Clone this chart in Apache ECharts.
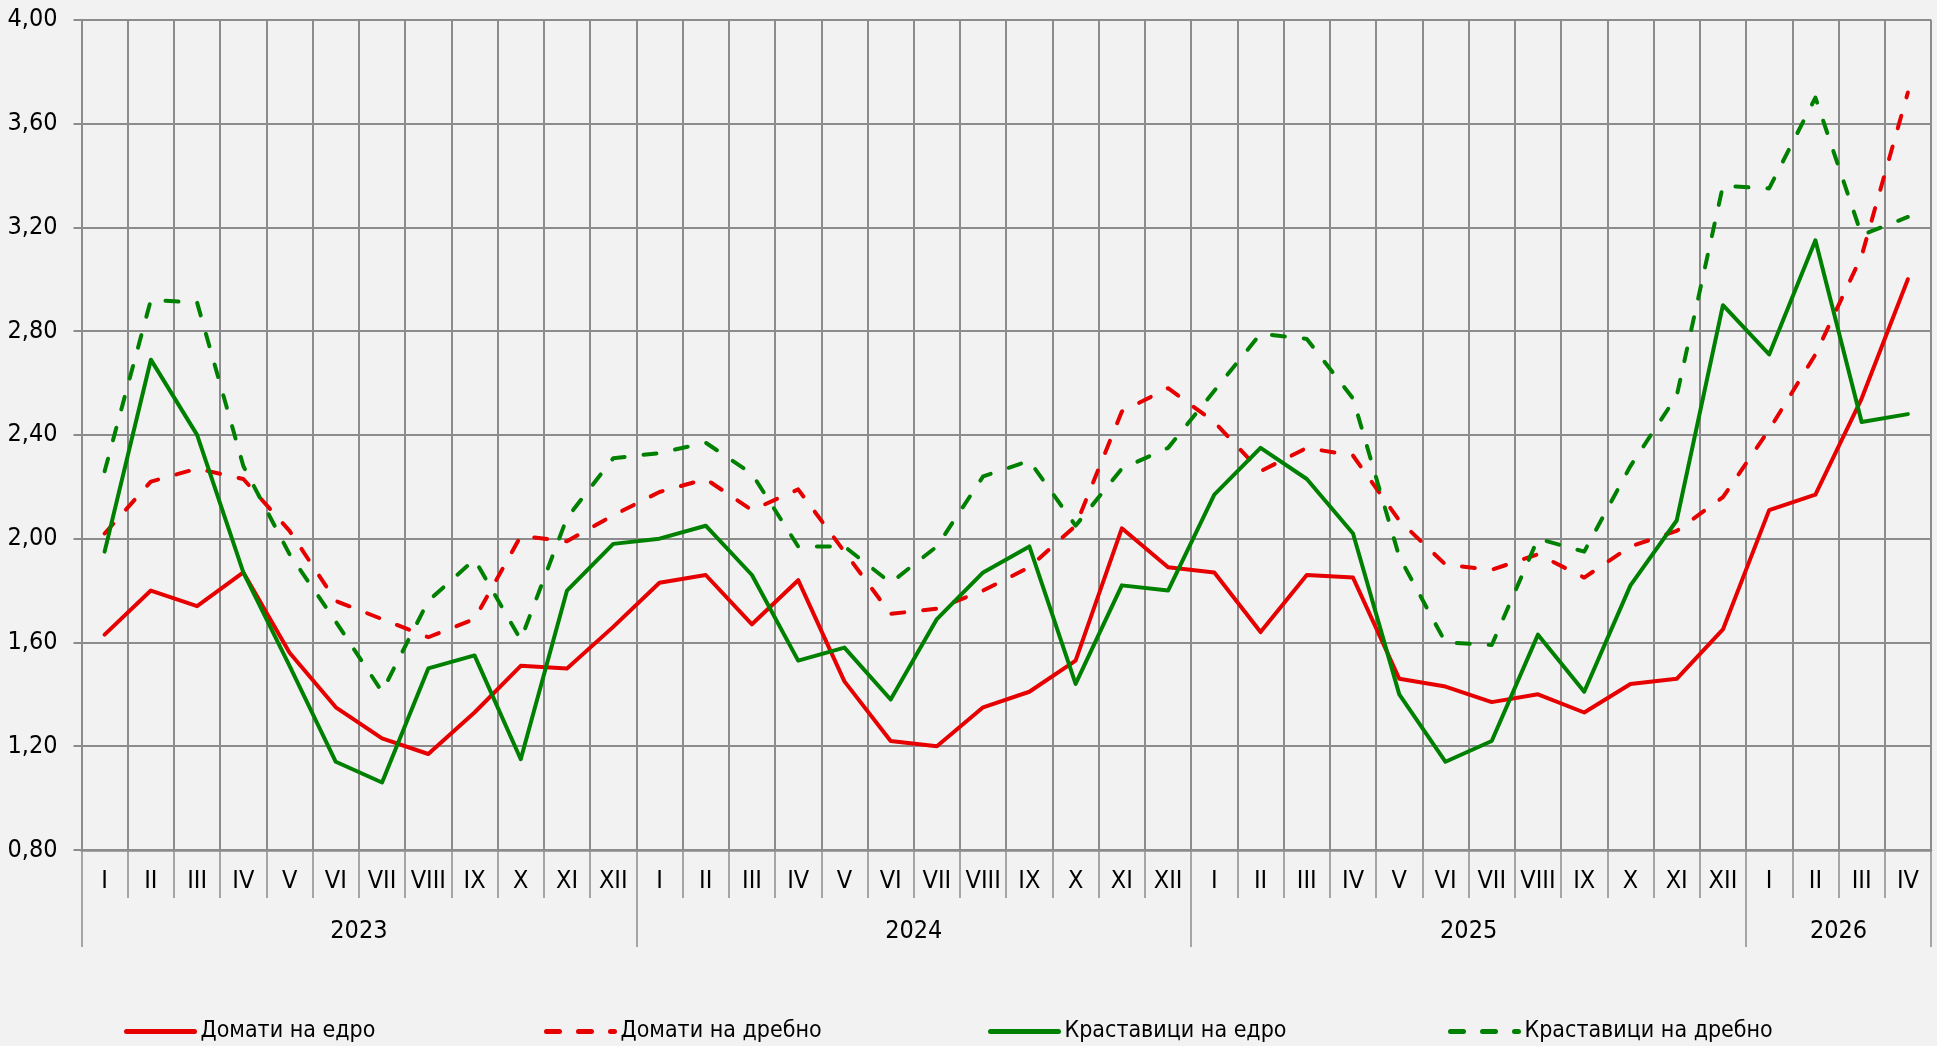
<!DOCTYPE html>
<html>
<head>
<meta charset="utf-8">
<script src="https://cdn.jsdelivr.net/npm/echarts@6/dist/echarts.min.js"></script>
<style>
  html, body { margin: 0; padding: 0; background: #f2f2f2; }
  #chart { width: 1937px; height: 1046px; }
</style>
</head>
<body>
<div id="chart"></div>
<script>
  const romanMonths = ['I', 'II', 'III', 'IV', 'V', 'VI', 'VII', 'VIII', 'IX', 'X', 'XI', 'XII']
  const yearLabels = ['2023', '2024', '2025', '2026']
  const yearMonths = [12, 12, 12, 4]

  const tomatoWholesale = [
    1.63, 1.80, 1.74, 1.87, 1.56, 1.35, 1.23, 1.17, 1.33, 1.51, 1.50, 1.66,
    1.83, 1.86, 1.67, 1.84, 1.45, 1.22, 1.20, 1.35, 1.41, 1.53, 2.04, 1.89,
    1.87, 1.64, 1.86, 1.85, 1.46, 1.43, 1.37, 1.40, 1.33, 1.44, 1.46, 1.65,
    2.11, 2.17, 2.54, 3.00
  ]
  const tomatoRetail = [
    2.02, 2.22, 2.27, 2.23, 2.03, 1.76, 1.69, 1.62, 1.69, 2.01, 1.99, 2.09,
    2.18, 2.23, 2.11, 2.19, 1.95, 1.71, 1.73, 1.80, 1.89, 2.05, 2.49, 2.58,
    2.45, 2.26, 2.35, 2.32, 2.07, 1.90, 1.88, 1.94, 1.85, 1.97, 2.03, 2.16,
    2.42, 2.71, 3.09, 3.72
  ]
  const cucumberWholesale = [
    1.95, 2.69, 2.40, 1.87, 1.51, 1.14, 1.06, 1.50, 1.55, 1.15, 1.80, 1.98,
    2.00, 2.05, 1.86, 1.53, 1.58, 1.38, 1.69, 1.87, 1.97, 1.44, 1.82, 1.80,
    2.17, 2.35, 2.23, 2.02, 1.40, 1.14, 1.22, 1.63, 1.41, 1.82, 2.07, 2.90,
    2.71, 3.15, 2.45, 2.48
  ]
  const cucumberRetail = [
    2.26, 2.92, 2.91, 2.28, 1.94, 1.68, 1.41, 1.76, 1.92, 1.61, 2.08, 2.31,
    2.33, 2.37, 2.25, 1.97, 1.97, 1.83, 1.97, 2.24, 2.30, 2.05, 2.27, 2.35,
    2.57, 2.79, 2.77, 2.54, 1.93, 1.60, 1.59, 2.00, 1.95, 2.28, 2.55, 3.36,
    3.35, 3.70, 3.17, 3.24
  ]

  const seriesNames = ['Домати на едро', 'Домати на дребно', 'Краставици на едро', 'Краставици на дребно']

  // month labels, year boundaries and year label positions
  const categories = []
  const yearBounds = [0]
  const yearCenters = []
  yearMonths.forEach((n, i) => {
    for (let m = 0; m < n; m++) categories.push(romanMonths[m])
    yearCenters.push(yearBounds[i] + n / 2)
    yearBounds.push(yearBounds[i] + n)
  })

  const font = "'DejaVu Sans Condensed', 'Liberation Sans Narrow', sans-serif"
  const red = '#e60000'
  const green = '#008000'
  const gridColor = '#8c8c8c'
  const dash = [13, 19]

  function makeSeries(name, data, color, dashed) {
    return {
      name: name,
      type: 'line',
      data: data,
      symbol: 'none',
      showSymbol: false,
      animation: false,
      lineStyle: {
        color: color,
        width: 4,
        type: dashed ? dash : 'solid',
        cap: 'round',
        join: 'round'
      },
      itemStyle: { color: color }
    }
  }

  function makeLegend(name, left) {
    return {
      data: [name],
      left: left,
      top: 1020,
      padding: 0,
      itemWidth: 68,
      itemHeight: 14,
      itemGap: 0,
      lineStyle: { width: 5 },
      // hide the circle that line series draw in legend icons
      itemStyle: { color: 'rgba(0,0,0,0)', borderWidth: 0, opacity: 0 },
      textStyle: { fontFamily: font, fontSize: 23, color: '#000', padding: [0, 0, 0, 1] }
    }
  }

  const chart = echarts.init(document.getElementById('chart'))
  chart.setOption({
    backgroundColor: '#f2f2f2',
    animation: false,
    grid: {
      left: 81.5,
      right: 6,
      top: 19.8,
      bottom: 196
    },
    legend: [
      makeLegend(seriesNames[0], 124),
      makeLegend(seriesNames[1], 544),
      makeLegend(seriesNames[2], 988),
      makeLegend(seriesNames[3], 1448)
    ],
    xAxis: [
      {
        type: 'category',
        data: categories,
        boundaryGap: true,
        axisLine: { show: true, lineStyle: { color: gridColor, width: 2.5 } },
        axisTick: { show: true, interval: 0, length: 48, lineStyle: { color: gridColor, width: 1.5 } },
        axisLabel: { interval: 0, margin: 19, fontFamily: font, fontSize: 25, color: '#000' },
        splitLine: { show: true, interval: 0, lineStyle: { color: gridColor, width: 2 } }
      },
      {
        type: 'value',
        position: 'bottom',
        min: 0,
        max: categories.length,
        axisLine: { show: false },
        splitLine: { show: false },
        axisTick: { show: true, customValues: yearBounds, length: 97, lineStyle: { color: gridColor, width: 1.5 } },
        axisLabel: {
          customValues: yearCenters,
          margin: 69,
          fontFamily: font,
          fontSize: 25,
          color: '#000',
          formatter: function (v) {
            return yearLabels[yearCenters.indexOf(v)]
          }
        }
      }
    ],
    yAxis: {
      type: 'value',
      min: 0.8,
      max: 4.0,
      interval: 0.4,
      axisLine: { show: true, lineStyle: { color: gridColor, width: 2 } },
      axisTick: { show: true, length: 8, lineStyle: { color: gridColor, width: 2 } },
      axisLabel: {
        margin: 24,
        fontFamily: font,
        fontSize: 25,
        color: '#000',
        formatter: function (v) {
          return v.toFixed(2).replace('.', ',')
        }
      },
      splitLine: { show: true, lineStyle: { color: gridColor, width: 2 } }
    },
    series: [
      makeSeries(seriesNames[0], tomatoWholesale, red, false),
      makeSeries(seriesNames[1], tomatoRetail, red, true),
      makeSeries(seriesNames[2], cucumberWholesale, green, false),
      makeSeries(seriesNames[3], cucumberRetail, green, true)
    ]
  })
</script>
</body>
</html>
